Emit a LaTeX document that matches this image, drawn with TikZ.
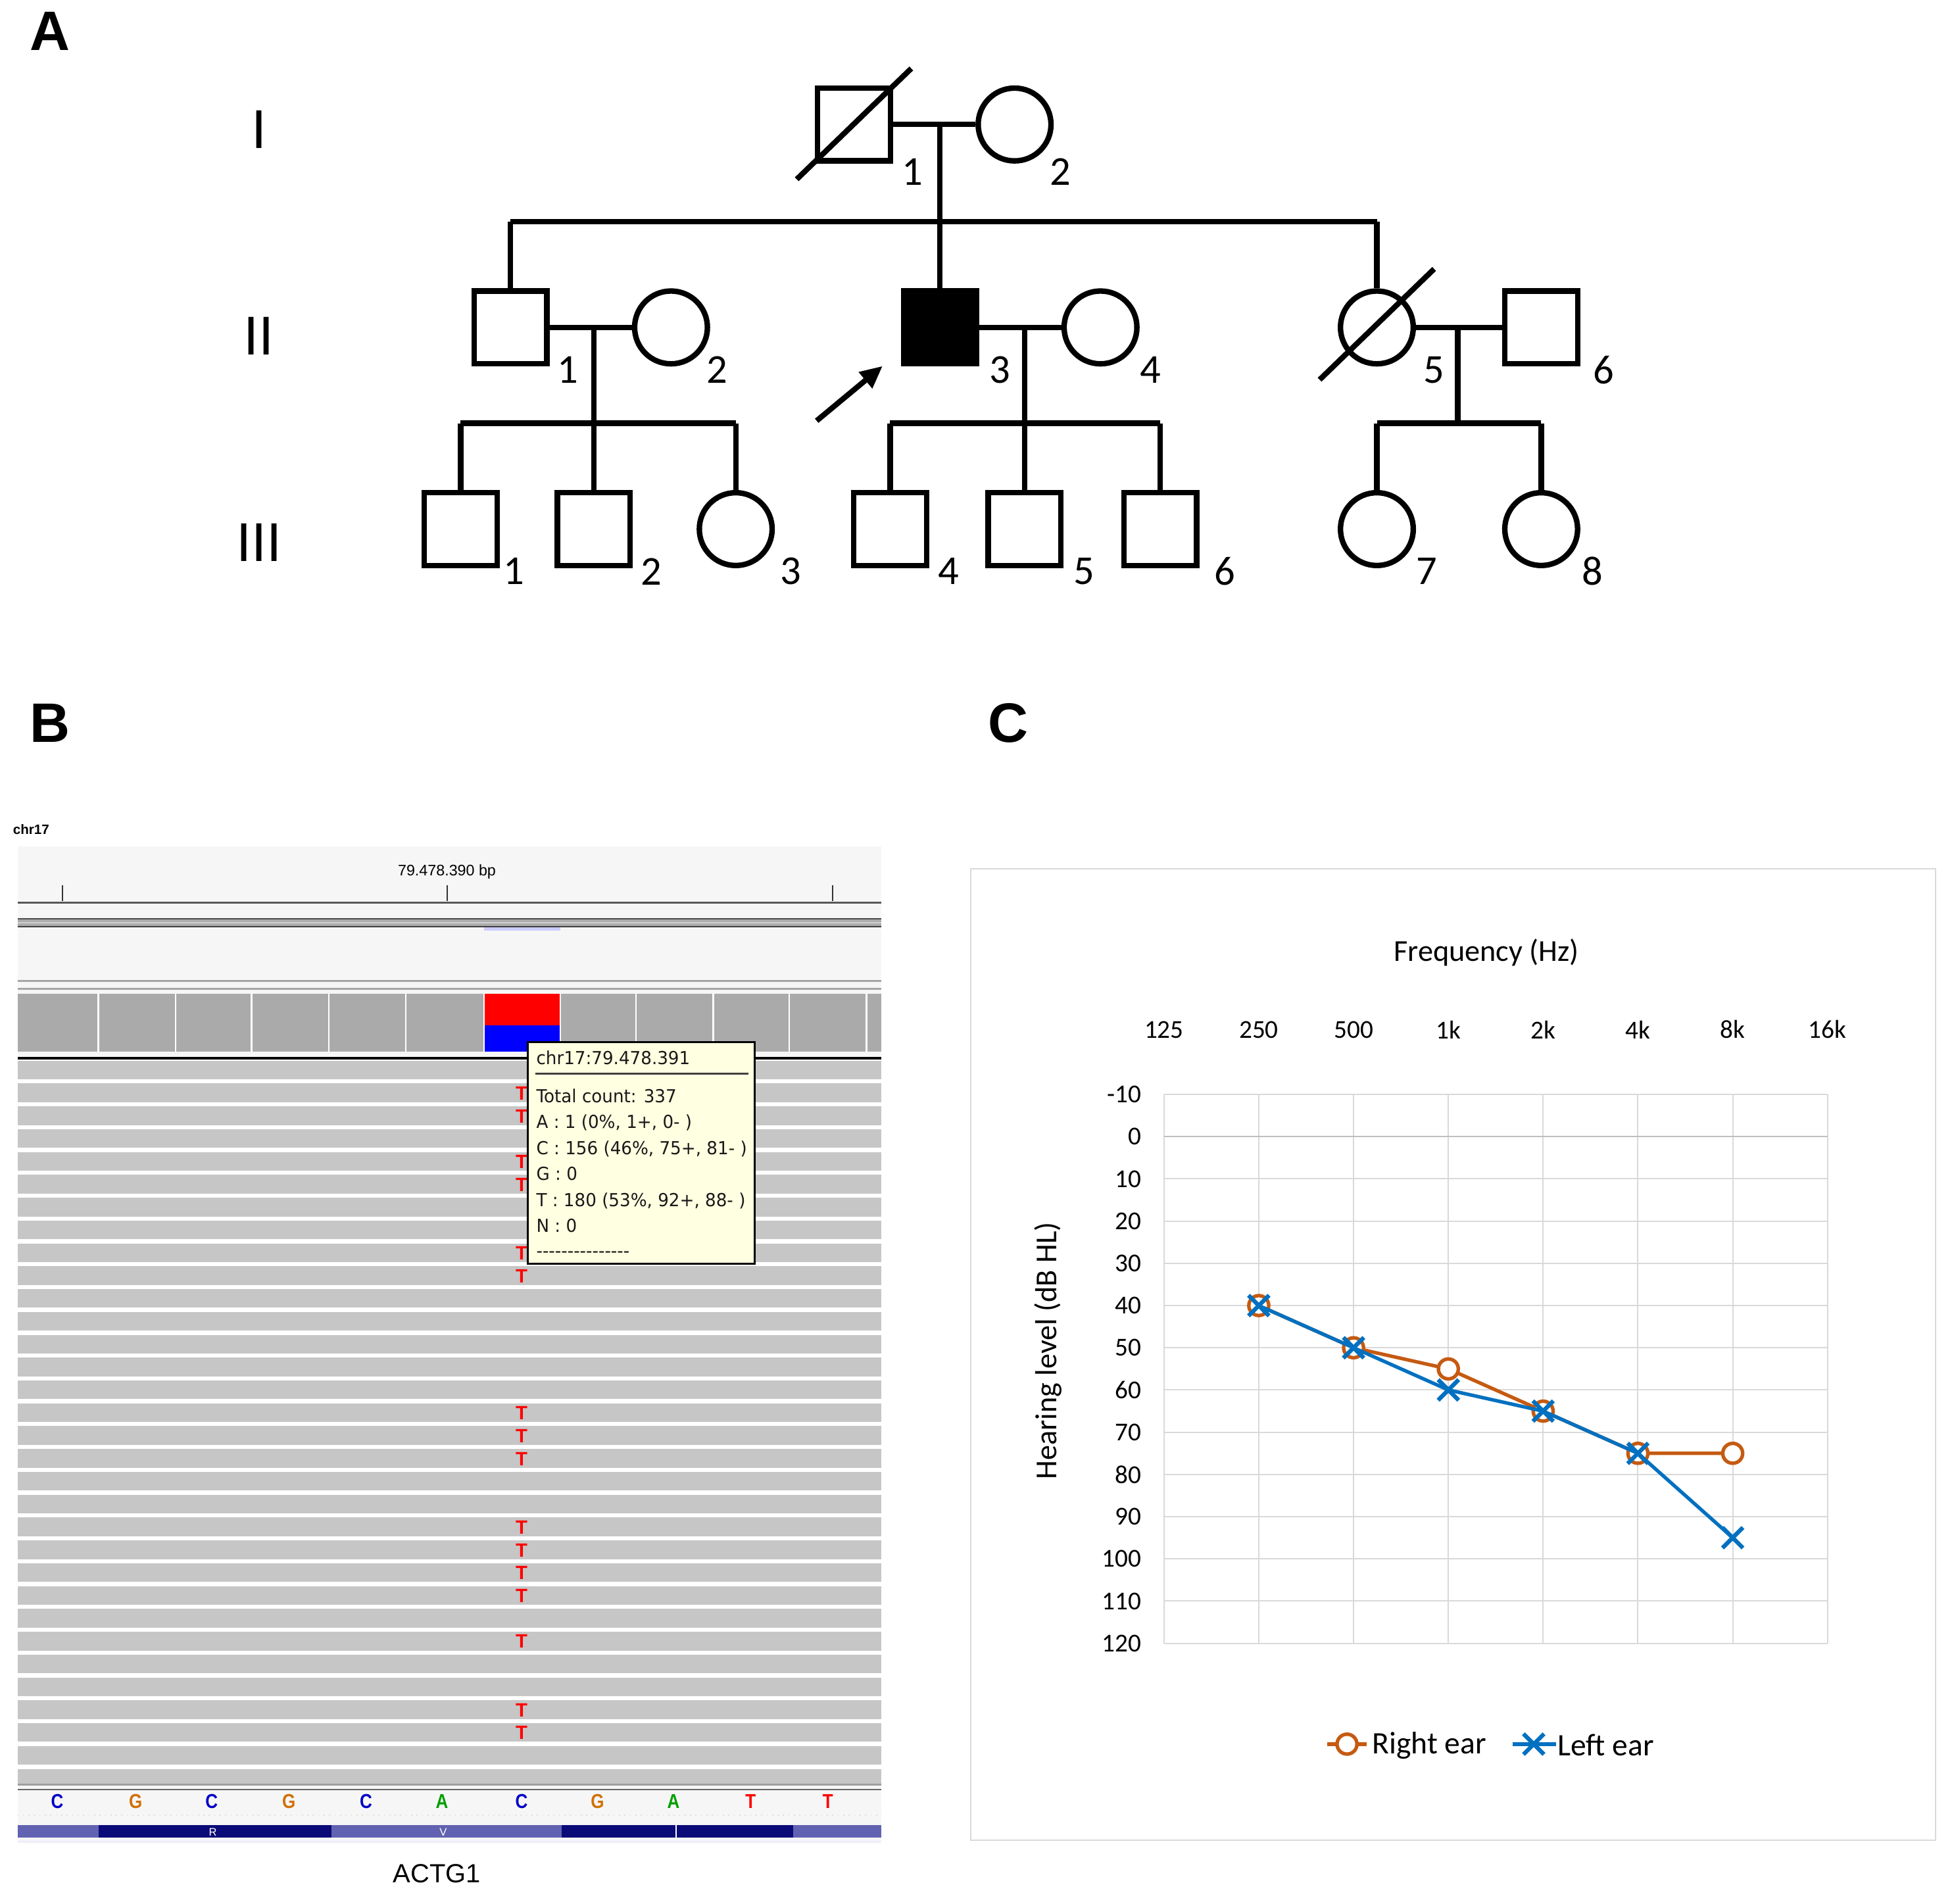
\documentclass[tikz,border=0pt]{standalone}
\usepackage{fontspec}
\setmainfont{Liberation Sans}
\newfontfamily\calfont{Carlito}
\newfontfamily\tipfont[FakeStretch=0.96]{DejaVu Sans}
\newfontfamily\narrowfont[FakeStretch=0.85]{Liberation Sans}
\usetikzlibrary{arrows.meta,calc}
\definecolor{orangeC}{HTML}{C55A11}
\definecolor{blueC}{HTML}{0070C0}
\definecolor{readgray}{HTML}{C6C6C6}
\definecolor{covgray}{HTML}{AAAAAA}
\definecolor{tipbg}{HTML}{FFFFE1}
\definecolor{igvbg}{HTML}{F6F6F6}
\definecolor{gridc}{HTML}{D9D9D9}
\definecolor{baseC}{HTML}{0000C8}
\definecolor{baseG}{HTML}{D17105}
\definecolor{baseA}{HTML}{00A000}
\definecolor{baseT}{HTML}{FF0000}
\definecolor{aalight}{HTML}{6262B2}
\definecolor{aadark}{HTML}{0A0A78}
\begin{document}
\begin{tikzpicture}[x=0.02cm,y=-0.02cm,
  pline/.style={line width=2.5pt},
  male/.style={draw, line width=2.5pt, rectangle, minimum size=1.17cm, inner sep=0pt},
  female/.style={draw, line width=2.5pt, circle, minimum size=1.17cm, inner sep=0pt},
  affected/.style={fill=black},
  idlab/.style={font=\calfont\fontsize{18.8}{20}\selectfont, inner sep=0pt},
  genlab/.style={font=\fontsize{25}{28}\selectfont, inner sep=0pt},
  panel/.style={font=\bfseries\fontsize{25.4}{28}\selectfont, inner sep=0pt},
  tiptext/.style={font=\tipfont\fontsize{8.2}{9}\selectfont, text=black!90, anchor=base west, inner sep=0pt},
  seq/.style={font=\narrowfont\bfseries\fontsize{9.2}{10}\selectfont, inner sep=0pt},
  readT/.style={font=\bfseries\fontsize{8.8}{9}\selectfont, text=baseT, inner sep=0pt},
  tick/.style={font=\calfont\fontsize{11.8}{13}\selectfont, inner sep=0pt},
  axlab/.style={font=\calfont\fontsize{13.9}{15}\selectfont, inner sep=0pt},
  leglab/.style={font=\calfont\fontsize{14.3}{15}\selectfont, inner sep=0pt},
  grid/.style={gridc, line width=0.6pt},
  rser/.style={orangeC, line width=1.6pt},
  lser/.style={blueC, line width=1.6pt},
  rmk/.style={orangeC, line width=1.6pt, fill=white},
  xmk/.pic={\draw[blueC, line width=1.9pt] (-0.165cm,-0.165cm) -- (0.165cm,0.165cm) (-0.165cm,0.165cm) -- (0.165cm,-0.165cm);}
]
\useasboundingbox (0,0) rectangle (1568,1529);

% ---------------- Panel labels ----------------
\node[panel] (pA) at (40,25) {A};
\node[panel] (pB) at (40,581) {B};
\node[panel] (pC) at (810,581) {C};

% ---------------- Pedigree ----------------
\node[genlab] (gI) at (208,104) {I};
\node[genlab] (gII) at (208,270) {II};
\node[genlab] (gIII) at (208,436) {III};

\node[male] (I1) at (686,100) {};
\node[female] (I2) at (815,100) {};
\node[male] (II1) at (410,263) {};
\node[female] (II2) at (539,263) {};
\node[male, affected] (II3) at (755,263) {};
\node[female] (II4) at (884,263) {};
\node[female] (II5) at (1106,263) {};
\node[male] (II6) at (1238,263) {};
\node[male] (III1) at (370,425) {};
\node[male] (III2) at (477,425) {};
\node[female] (III3) at (591,425) {};
\node[male] (III4) at (715,425) {};
\node[male] (III5) at (823,425) {};
\node[male] (III6) at (932,425) {};
\node[female] (III7) at (1106,425) {};
\node[female] (III8) at (1238,425) {};

% marriages
\draw[pline] (I1) -- (I2);
\draw[pline] (II1) -- (II2);
\draw[pline] (II3) -- (II4);
\draw[pline] (II5) -- (II6);

% generation I -> II
\coordinate (mI) at (755,100);
\coordinate (sIa) at (410,178);
\coordinate (sIb) at (1106,178);
\draw[pline] (mI) -- (II3.north);
\draw[pline] (sIa) -- (sIb);
\draw[pline] (sIa) -- (II1.north);
\draw[pline] (sIb) -- (II5.north);

% II-1 x II-2
\coordinate (mA) at (477,263);
\coordinate (sAa) at (370,340);
\coordinate (sAb) at (591,340);
\draw[pline] (mA) -- (III2.north);
\draw[pline] (sAa) -- (sAb);
\draw[pline] (sAa) -- (III1.north);
\draw[pline] (sAb) -- (III3.north);

% II-3 x II-4
\coordinate (mB) at (823,263);
\coordinate (sBa) at (715,340);
\coordinate (sBb) at (932,340);
\draw[pline] (mB) -- (III5.north);
\draw[pline] (sBa) -- (sBb);
\draw[pline] (sBa) -- (III4.north);
\draw[pline] (sBb) -- (III6.north);

% II-5 x II-6
\coordinate (mC) at (1171,263);
\coordinate (sC) at (1171,340);
\coordinate (sCa) at (1106,340);
\coordinate (sCb) at (1238,340);
\draw[pline] (mC) -- (sC);
\draw[pline] (sCa) -- (sCb);
\draw[pline] (sCa) -- (III7.north);
\draw[pline] (sCb) -- (III8.north);

% deceased slashes
\draw[pline] ([shift={(-46,44)}]I1.center) -- ([shift={(46,-45)}]I1.center);
\draw[pline] ([shift={(-46,42)}]II5.center) -- ([shift={(46,-47)}]II5.center);

% proband arrow
\coordinate (arrS) at (656,338);
\coordinate (arrE) at (709,294);
\draw[pline, -{Triangle[length=0.36cm,width=0.32cm]}] (arrS) -- (arrE);

% ids
\node[idlab] at (733,138) {1};
\node[idlab] at (852,138) {2};
\node[idlab] at (456,297) {1};
\node[idlab] at (576,297) {2};
\node[idlab] at (803,297) {3};
\node[idlab] at (924,297) {4};
\node[idlab] at (1152,297) {5};
\node[idlab] at (1288,297) {6};
\node[idlab] at (413,459) {1};
\node[idlab] at (523,459) {2};
\node[idlab] at (635,459) {3};
\node[idlab] at (762,459) {4};
\node[idlab] at (871,459) {5};
\node[idlab] at (984,459) {6};
\node[idlab] at (1146,459) {7};
\node[idlab] at (1279,459) {8};

% ---------------- Panel B (IGV) ----------------
\node[font=\bfseries\fontsize{6.2}{7}\selectfont, inner sep=0pt] (chr) at (25,666) {chr17};
\fill[igvbg] (14,680) rectangle (708,1481);
% ruler
\node[font=\fontsize{7}{8}\selectfont, inner sep=0pt] (bp) at (359,700) {79.478.390 bp};
\foreach \xx in {50,359,669} \draw[black!80, line width=0.6pt] (\xx,711) -- (\xx,724);
\draw[black!65, line width=1.1pt] (14,725) -- (708,725);
% track bands
\fill[gray!65] (14,737.5) rectangle (708,744.5);
\draw[black!70, line width=0.6pt] (14,738) -- (708,738);
\draw[gray!35, line width=0.6pt] (14,741) -- (708,741);
\draw[black!75, line width=0.7pt] (14,744.3) -- (708,744.3);
\fill[blue!20] (389,745) rectangle (450,747.5);
\draw[gray!70, line width=0.8pt] (14,788) -- (708,788);
\draw[gray!70, line width=0.8pt] (14,794.3) -- (708,794.3);
% coverage
\fill[covgray] (14,798) rectangle (708,845);
\fill[red] (389,798) rectangle (450,823.5);
\fill[blue] (389,823.5) rectangle (450,845);
\foreach \xx in {79,141,202,264,326,389,450,511,573,634,696}
  \draw[white, line width=0.7pt] (\xx,798) -- (\xx,845);
\draw[black, line width=1.3pt] (14,850) -- (708,850);
% reads
\fill[white] (14,851) rectangle (708,1433);
\foreach \i in {0,...,31}
  \fill[readgray] (14,{852+18.35*\i}) rectangle (708,{min(852+18.35*\i+15,1432.5)});
\foreach \i in {1,2,4,5,8,9,15,16,17,20,21,22,23,25,28,29}
  \node[readT] at (419,{852+18.35*\i+7.8}) {T};
\draw[gray!75, line width=0.7pt] (14,1433.5) -- (708,1433.5);
\draw[black!60, line width=0.8pt] (14,1437.5) -- (708,1437.5);
% reference sequence
\foreach \xx/\bb/\cc in {46/C/baseC,109/G/baseG,170/C/baseC,232/G/baseG,294/C/baseC,355/A/baseA,419/C/baseC,480/G/baseG,541/A/baseA,603/T/baseT,665/T/baseT}
  \node[seq, text=\cc] at (\xx,1447) {\bb};
\draw[gray!25, line width=0.5pt, dotted] (14,1458) -- (708,1458);
% amino acid bar
\fill[aalight] (14,1466) rectangle (708,1476);
\fill[aadark] (79,1466) rectangle (266,1476);
\fill[aadark] (451,1466) rectangle (637,1476);
\draw[white, line width=0.5pt] (543,1466) -- (543,1476);
\node[text=white, font=\fontsize{5}{5}\selectfont, inner sep=0pt] at (171,1471.5) {R};
\node[text=white, font=\fontsize{5}{5}\selectfont, inner sep=0pt] at (356,1471.5) {V};
\draw[blue!8, line width=0.6pt] (14,1479) -- (708,1479);
\node[font=\fontsize{12}{14}\selectfont, inner sep=0pt] (gene) at (351,1505) {ACTG1};
% tooltip
\draw[fill=tipbg, line width=0.9pt] (424,837) rectangle (606,1015);
\node[tiptext] at (430.5,855) {chr17:79.478.391};
\draw[black!75, line width=0.8pt] (430,862.5) -- (601,862.5);
\node[tiptext] at (430.5,885.7) {Total count: 337};
\node[tiptext] at (430.5,906.5) {A : 1 (0\%, 1+, 0- )};
\node[tiptext] at (430.5,927.2) {C : 156 (46\%, 75+, 81- )};
\node[tiptext] at (430.5,948.2) {G : 0};
\node[tiptext] at (430.5,969.2) {T : 180 (53\%, 92+, 88- )};
\node[tiptext] at (430.5,990) {N : 0};
\node[tiptext] at (430.5,1010) {---------------};

% ---------------- Panel C (audiogram) ----------------
\draw[gray!30, line width=0.6pt] (780,698) rectangle (1555,1478);
\foreach \i in {0,...,7}
  \draw[grid] ({935+76.14*\i},879) -- ({935+76.14*\i},1320);
\foreach \d in {-10,10,20,...,120}
  \draw[grid] (935,{913+3.392*\d}) -- (1468,{913+3.392*\d});
\draw[gray!50, line width=0.7pt] (935,913) -- (1468,913);
\foreach \d in {-10,0,10,20,...,120}
  \node[tick, anchor=east] at (917,{913+3.392*\d}) {\d};
\foreach \i/\lab in {0/125,1/250,2/500,3/1k,4/2k,5/4k,6/8k,7/16k}
  \node[tick] at ({935+76.14*\i},827) {\lab};
\node[axlab] (freq) at (1194,765) {Frequency (Hz)};
\node[axlab, rotate=90] (hl) at (842,1085) {Hearing level (dB HL)};
% right ear
\draw[rser] (1011.14,1048.7) -- (1087.28,1082.6) -- (1163.42,1099.6) -- (1239.56,1133.5) -- (1315.7,1167.4) -- (1391.84,1167.4);
\foreach \xx/\yy in {1011.14/1048.7,1087.28/1082.6,1163.42/1099.6,1239.56/1133.5,1315.7/1167.4,1391.84/1167.4}
  \draw[rmk] (\xx,\yy) circle[radius=0.16cm];
% left ear
\draw[lser] (1011.14,1048.7) -- (1087.28,1082.6) -- (1163.42,1116.5) -- (1239.56,1133.5) -- (1315.7,1167.4) -- (1391.84,1235.2);
\foreach \xx/\yy in {1011.14/1048.7,1087.28/1082.6,1163.42/1116.5,1239.56/1133.5,1315.7/1167.4,1391.84/1235.2}
  \pic at (\xx,\yy) {xmk};
% legend
\draw[rser] (1066,1401) -- (1098,1401);
\draw[rmk] (1082,1401) circle[radius=0.16cm];
\node[leglab, anchor=west] (lr) at (1102,1402) {Right ear};
\draw[lser] (1215,1401) -- (1250,1401);
\pic at (1232,1401) {xmk};
\node[leglab, anchor=west] (ll) at (1251,1402) {Left ear};
\end{tikzpicture}
\end{document}
